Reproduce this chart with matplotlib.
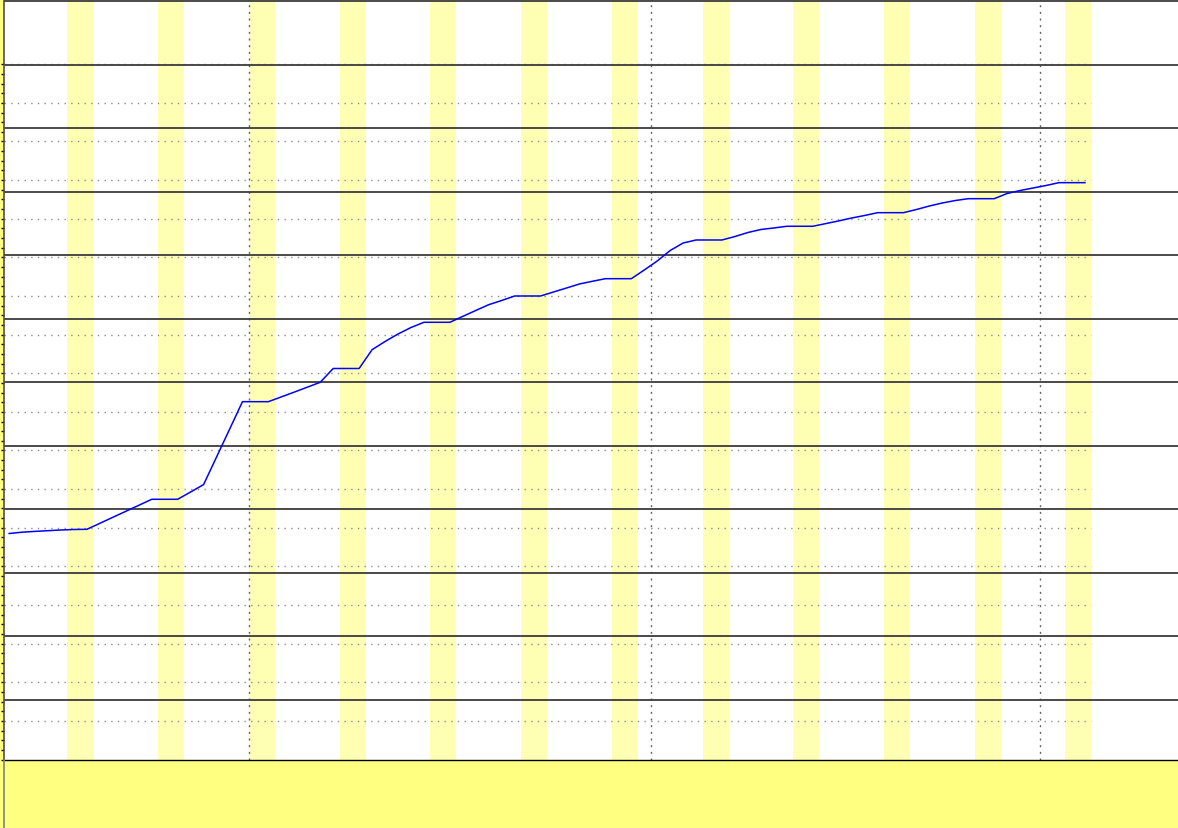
import matplotlib
matplotlib.use("Agg")
import matplotlib.pyplot as plt
import matplotlib.dates as mdates
from matplotlib.lines import Line2D
import numpy as np
import pandas as pd

# daily samples (noon)
dates = pd.date_range("2015-07-13 12:00", periods=84, freq="D")
values = [
    58.51, 58.85, 59.06, 59.24, 59.42, 59.55, 59.60,
    61.15, 62.71, 64.26, 65.81, 67.37, 67.37, 67.37,
    69.26, 71.17, 78.32, 85.46, 92.64, 92.64, 92.64,
    93.88, 95.12, 96.39, 97.66, 101.23, 101.23, 101.23,
    106.10, 108.22, 110.16, 111.84, 113.19, 113.19, 113.19,
    114.72, 116.25, 117.75, 118.84, 120.00, 120.00, 120.00,
    121.04, 122.07, 123.11, 123.81, 124.48, 124.48, 124.48,
    126.73, 129.06, 131.78, 133.72, 134.50, 134.50, 134.50,
    135.40, 136.44, 137.22, 137.61, 138.05, 138.05, 138.05,
    138.74, 139.44, 140.19, 140.84, 141.57, 141.57, 141.57,
    142.39, 143.30, 144.08, 144.72, 145.19, 145.19, 145.19,
    146.54, 147.31, 147.96, 148.61, 149.34, 149.34, 149.34,
]
weekend_starts = pd.date_range("2015-07-18", "2015-10-03", freq="7D")
month_starts = pd.to_datetime(["2015-08-01", "2015-09-01", "2015-10-01"])
data_end = pd.Timestamp("2015-10-05")
view_start = pd.Timestamp("2015-07-13 01:30")
view_end = pd.Timestamp("2015-10-11 16:20")

minor_grid = np.arange(10, 181, 10)
major_grid = 15.48 + 16.44 * np.arange(12)

W, H = 1178, 829
fig = plt.figure(figsize=(W / 100, H / 100), dpi=100, facecolor="#ffff80")
ax = fig.add_axes([3.5 / W, 68.5 / H, 1 - 3.5 / W, 760.5 / H])
ax.set_facecolor("white")

x = mdates.date2num(dates)
x0 = mdates.date2num(view_start)
x1 = mdates.date2num(view_end)
xe = mdates.date2num(data_end)

for sat in weekend_starts:
    s = mdates.date2num(sat)
    ax.axvspan(s, s + 2, color="#ffffb4", lw=0, zorder=0)

ax.hlines(minor_grid, x0, xe, colors="#8c8c8c", lw=1.0,
          linestyles=(0, (1, 3.8)), zorder=1)
for m in month_starts:
    ax.axvline(mdates.date2num(m), color="#606060", lw=1.0,
               ls=(0, (1.4, 3.4)), zorder=1)
for g in major_grid:
    ax.axhline(g, color="#3c3c3c", lw=1.3, zorder=2)

ax.plot(x, values, color="#0000ff", lw=1.1, zorder=3)

ax.set_xlim(x0, x1)
ax.set_ylim(0, 196.89)
ax.set_xticks([])
ax.set_yticks(np.arange(0, 181, 2.5))
ax.tick_params(axis="y", direction="out", length=2, width=1,
               color="black", labelleft=False)
for side in ["top", "right"]:
    ax.spines[side].set_visible(False)
ax.spines["bottom"].set_color("black")
ax.spines["bottom"].set_linewidth(1.0)
ax.spines["left"].set_color("#505050")
ax.spines["left"].set_linewidth(1.2)

# left rule continues down through the footer
fig.add_artist(Line2D([3.5 / W, 3.5 / W], [0, 68.5 / H],
                      color="#808080", lw=1.2, transform=fig.transFigure))

fig.savefig("out.png", dpi=100, facecolor=fig.get_facecolor())
